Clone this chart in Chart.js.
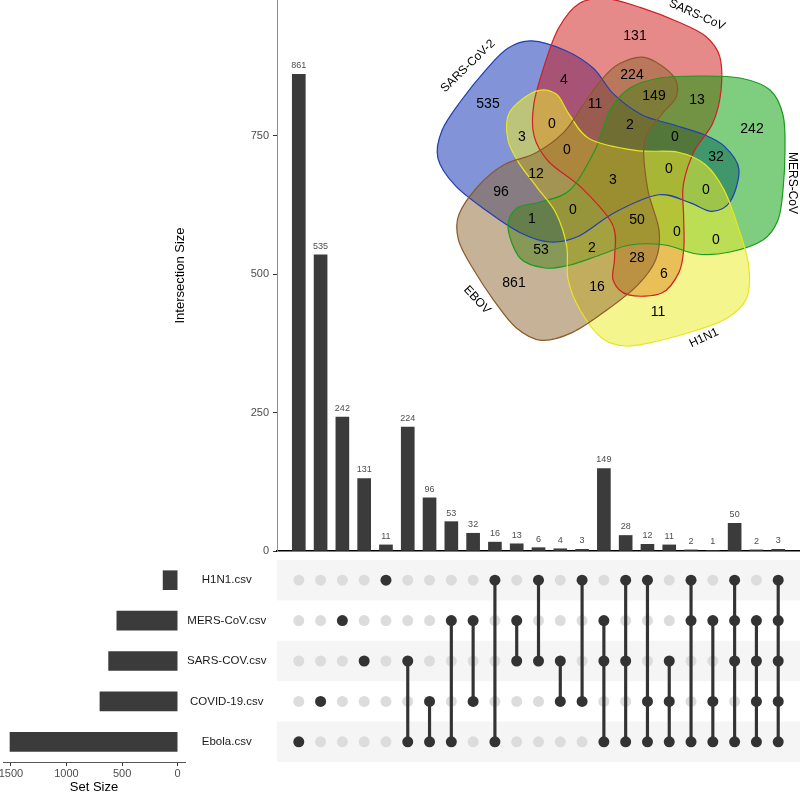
<!DOCTYPE html>
<html>
<head>
<meta charset="utf-8">
<script src="https://cdn.jsdelivr.net/npm/chart.js@4.4.0/dist/chart.umd.min.js"></script>
<style>
  html, body { margin: 0; padding: 0; background: #fff; }
  #wrap { position: relative; width: 800px; height: 795px; overflow: hidden; }
  canvas { position: absolute; }
</style>
</head>
<body>
<div id="wrap">
  <canvas id="bars" width="800" height="560" style="left:0;top:0"></canvas>
  <canvas id="matrix" width="523" height="202" style="left:277px;top:560px"></canvas>
  <canvas id="sets" width="277" height="235" style="left:0;top:560px"></canvas>
  <canvas id="venn" width="370" height="380" style="left:430px;top:0"></canvas>
</div>
<script>
// upset data
var setNames = ['H1N1.csv', 'MERS-CoV.csv', 'SARS-COV.csv', 'COVID-19.csv', 'Ebola.csv'];
var setSizes = [131, 547, 621, 699, 1508];
var intersectionSizes = [861, 535, 242, 131, 11, 224, 96, 53, 32, 16, 13, 6, 4, 3, 149, 28, 12, 11, 2, 1, 50, 2, 3];
// rows of the matrix that are part of each intersection (1 = H1N1 ... 5 = Ebola)
var intersectionSets = [
  [5], [4], [2], [3], [1],
  [3, 5], [4, 5], [2, 5], [2, 4], [1, 5], [2, 3], [1, 3], [3, 4], [1, 4],
  [2, 3, 5], [1, 3, 5], [1, 4, 5], [3, 4, 5], [1, 2, 5], [2, 4, 5],
  [1, 2, 3, 5], [2, 3, 4, 5], [1, 2, 3, 4, 5]
];
var sizeTicks = [0, 250, 500, 750];
var setSizeTicks = [0, 500, 1000, 1500];

// venn data
var vennSets = ['SARS-CoV-2', 'SARS-CoV', 'MERS-CoV', 'H1N1', 'EBOV'];
var vennCounts = [131, 4, 224, 535, 149, 13, 11, 0, 2, 242, 3, 0, 0, 32, 12, 3, 0, 96, 0, 1, 0, 50, 0, 0, 53, 2, 28, 6, 861, 16, 11];

// venn layout (centre of the diagram = 0,0)
var vennSpots = [[20, 142], [-51, 98], [17, 103], [-127, 74], [39, 82], [82, 78], [-20, 74], [-63, 54], [15, 53], [137, 49],
  [-93, 41], [60, 41], [-48, 28], [101, 21], [-79, 4], [-2, -2], [54, 9], [-114, -14], [91, -12], [-83, -41],
  [-42, -32], [22, -42], [62, -54], [101, -62], [-74, -72], [-23, -70], [22, -80], [49, -96], [-101, -105], [-18, -109], [43, -134]];
var vennNameSpots = [[-147, 112], [82, 163], [177, -5], [89, -160], [-138, -122]];
var vennNameAngle = [-44, 24, 90, -25, 47];
var vennTurn = [144, 72, 0, -72, -144];
// one blob outline, the others are the same blob turned round the centre
var vennOutline = [[-107, -49], [-98, -30], [-75, -24], [-45, -12], [-20, 28], [-5, 68], [15, 90], [45, 100], [85, 102],
  [125, 100], [155, 88], [168, 63], [170, 28], [168, -12], [163, -42], [148, -62], [115, -74], [82, -76], [50, -67],
  [15, -67], [-15, -77], [-45, -87], [-70, -90], [-95, -80]];
var vennFill = ['rgba(5,40,175,0.5)', 'rgba(205,20,20,0.5)', 'rgba(0,155,0,0.5)', 'rgba(236,236,50,0.55)', 'rgba(141,101,45,0.5)'];
var vennLine = ['#1f3fb5', '#d01f25', '#1e9a1e', '#e6e620', '#8a5a28'];

var FONT = '"Liberation Sans", Arial, Helvetica, sans-serif';
Chart.defaults.font.family = FONT;

// ---------- intersection size bars ----------
var barLabels = {
  id: 'barLabels',
  afterDatasetsDraw: function(chart) {
    var ctx = chart.ctx;
    var meta = chart.getDatasetMeta(0);
    ctx.save();
    ctx.font = '9px ' + FONT;
    ctx.fillStyle = '#4d4d4d';
    ctx.textAlign = 'center';
    ctx.textBaseline = 'alphabetic';
    meta.data.forEach(function(bar, i) {
      ctx.fillText(intersectionSizes[i], bar.x, bar.y - 6);
    });
    ctx.restore();
  }
};

new Chart(document.getElementById('bars'), {
  type: 'bar',
  data: {
    datasets: [{
      data: intersectionSizes.map(function(v, i) { return {x: i + 1, y: v}; }),
      backgroundColor: '#3b3b3b',
      barThickness: 13
    }]
  },
  options: {
    responsive: false,
    animation: false,
    layout: {padding: 0, autoPadding: false},
    plugins: {legend: {display: false}, tooltip: {enabled: false}},
    scales: {
      x: {
        type: 'linear', min: 0, max: 24, offset: false,
        ticks: {display: false},
        grid: {display: false},
        border: {color: '#000', width: 1.5},
        afterFit: function(s) { s.height = 9; s.paddingLeft = 0; s.paddingRight = 0; }
      },
      y: {
        min: 0, max: 995,
        afterBuildTicks: function(s) { s.ticks = sizeTicks.map(function(v) { return {value: v}; }); },
        ticks: {font: {size: 11}, color: '#4d4d4d', padding: 4},
        grid: {display: true, drawOnChartArea: false, tickLength: 4, color: '#333'},
        border: {color: '#8c8c8c'},
        title: {display: true, text: 'Intersection Size', font: {size: 13}, color: '#000', padding: {top: 173, bottom: 0}},
        afterFit: function(s) { s.width = 277; s.paddingTop = 0; s.paddingBottom = 0; }
      }
    }
  },
  plugins: [barLabels]
});

// ---------- dot matrix ----------
var matrixGray = [], matrixDark = [], matrixLinks = [];
intersectionSets.forEach(function(rows, i) {
  for (var r = 1; r <= setNames.length; r++) {
    if (rows.indexOf(r) >= 0) matrixDark.push({x: i + 1, y: r});
    else matrixGray.push({x: i + 1, y: r});
  }
  if (rows.length > 1) {
    matrixLinks.push({x: i + 1, y: [Math.min.apply(null, rows), Math.max.apply(null, rows)]});
  }
});

var rowStripes = {
  id: 'rowStripes',
  beforeDatasetsDraw: function(chart) {
    var ctx = chart.ctx, ys = chart.scales.y, a = chart.chartArea;
    ctx.save();
    ctx.fillStyle = '#f5f5f5';
    for (var r = 1; r <= setNames.length; r += 2) {
      var top = ys.getPixelForValue(r - 0.5), bot = ys.getPixelForValue(r + 0.5);
      ctx.fillRect(a.left, top, a.right - a.left, bot - top);
    }
    ctx.restore();
  }
};

new Chart(document.getElementById('matrix'), {
  type: 'scatter',
  data: {
    datasets: [
      {type: 'scatter', data: matrixDark, pointRadius: 5.5, backgroundColor: '#333', borderWidth: 0, order: 0},
      {type: 'bar', data: matrixLinks, backgroundColor: '#333', barThickness: 2.5, order: 1},
      {type: 'scatter', data: matrixGray, pointRadius: 5.5, backgroundColor: '#dcdcdc', borderWidth: 0, order: 2}
    ]
  },
  options: {
    responsive: false,
    animation: false,
    layout: {padding: 0, autoPadding: false},
    plugins: {legend: {display: false}, tooltip: {enabled: false}},
    scales: {
      x: {type: 'linear', min: 0, max: 24, offset: false, display: false},
      y: {type: 'linear', min: 0.5, max: 5.5, reverse: true, display: false}
    }
  },
  plugins: [rowStripes]
});

// ---------- set size bars ----------
new Chart(document.getElementById('sets'), {
  type: 'bar',
  data: {
    labels: setNames,
    datasets: [{data: setSizes, backgroundColor: '#3b3b3b', barThickness: 19}]
  },
  options: {
    indexAxis: 'y',
    responsive: false,
    animation: false,
    layout: {padding: {left: 3}, autoPadding: false},
    plugins: {legend: {display: false}, tooltip: {enabled: false}},
    scales: {
      x: {
        min: -66, max: 1571, reverse: true,
        afterBuildTicks: function(s) { s.ticks = setSizeTicks.map(function(v) { return {value: v}; }); },
        ticks: {font: {size: 11}, color: '#4d4d4d', padding: 1, maxRotation: 0,
          callback: function(v) { return String(v); }},
        grid: {display: true, drawOnChartArea: false, tickLength: 4, color: '#333'},
        border: {color: '#555'},
        title: {display: true, text: 'Set Size', font: {size: 13}, color: '#000', padding: {top: 0, bottom: 0}},
        afterFit: function(s) { s.height = 33; s.paddingLeft = 0; s.paddingRight = 0; }
      },
      y: {
        position: 'right',
        grid: {display: false, drawTicks: false},
        border: {display: false},
        ticks: {font: {size: 11.5}, color: '#1a1a1a', crossAlign: 'center', padding: 2},
        afterFit: function(s) { s.width = 92; s.paddingTop = 0; s.paddingBottom = 0; }
      }
    }
  }
});

// ---------- venn diagram ----------
function smoothPath(ctx, pts) {
  var n = pts.length;
  ctx.beginPath();
  ctx.moveTo(pts[0][0], pts[0][1]);
  for (var i = 0; i < n; i++) {
    var p0 = pts[(i - 1 + n) % n], p1 = pts[i], p2 = pts[(i + 1) % n], p3 = pts[(i + 2) % n];
    ctx.bezierCurveTo(p1[0] + (p2[0] - p0[0]) / 6, p1[1] + (p2[1] - p0[1]) / 6,
                      p2[0] - (p3[0] - p1[0]) / 6, p2[1] - (p3[1] - p1[1]) / 6,
                      p2[0], p2[1]);
  }
  ctx.closePath();
}

var vennDraw = {
  id: 'vennDraw',
  beforeDatasetsDraw: function(chart) {
    var ctx = chart.ctx, xs = chart.scales.x, ys = chart.scales.y;
    var paths = vennSets.map(function(name, k) {
      var a = vennTurn[k] * Math.PI / 180, c = Math.cos(a), s = Math.sin(a);
      return vennOutline.map(function(p) {
        return [xs.getPixelForValue(p[0] * c - p[1] * s), ys.getPixelForValue(p[0] * s + p[1] * c)];
      });
    });
    ctx.save();
    paths.forEach(function(pts, k) {
      smoothPath(ctx, pts);
      ctx.fillStyle = vennFill[k];
      ctx.fill();
    });
    paths.forEach(function(pts, k) {
      smoothPath(ctx, pts);
      ctx.strokeStyle = vennLine[k];
      ctx.lineWidth = 1.2;
      ctx.stroke();
    });
    ctx.restore();
  },
  afterDatasetsDraw: function(chart) {
    var ctx = chart.ctx;
    ctx.save();
    ctx.fillStyle = '#000';
    ctx.textAlign = 'center';
    ctx.textBaseline = 'middle';
    ctx.font = '14px ' + FONT;
    chart.getDatasetMeta(0).data.forEach(function(pt, i) {
      ctx.fillText(vennCounts[i], pt.x, pt.y);
    });
    ctx.font = '12px ' + FONT;
    chart.getDatasetMeta(1).data.forEach(function(pt, i) {
      ctx.save();
      ctx.translate(pt.x, pt.y);
      ctx.rotate(vennNameAngle[i] * Math.PI / 180);
      ctx.fillText(vennSets[i], 0, 0);
      ctx.restore();
    });
    ctx.restore();
  }
};

new Chart(document.getElementById('venn'), {
  type: 'scatter',
  data: {
    datasets: [
      {data: vennSpots.map(function(p) { return {x: p[0], y: p[1]}; }), pointRadius: 0},
      {data: vennNameSpots.map(function(p) { return {x: p[0], y: p[1]}; }), pointRadius: 0}
    ]
  },
  options: {
    responsive: false,
    animation: false,
    layout: {padding: 0, autoPadding: false},
    plugins: {legend: {display: false}, tooltip: {enabled: false}},
    scales: {
      x: {type: 'linear', min: -185, max: 185, display: false},
      y: {type: 'linear', min: -202, max: 178, display: false}
    }
  },
  plugins: [vennDraw]
});
</script>
</body>
</html>
